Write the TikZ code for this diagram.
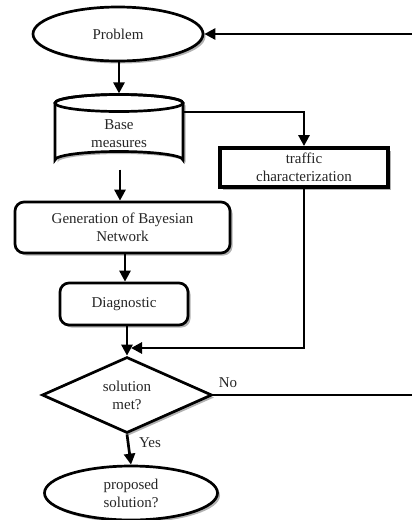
\documentclass[tikz,border=0pt]{standalone}
\usepackage{fontspec}
\setmainfont{Liberation Serif}
\usetikzlibrary{shapes.geometric,arrows.meta,shadows,calc}
\begin{document}
\begin{tikzpicture}[x=1pt,y=-1pt,
  line width=2.7pt,
  arr/.style={-{Triangle[length=11pt,width=11pt]}, line width=2.7pt},
  shad/.style={drop shadow={shadow xshift=2.5pt,shadow yshift=-2.5pt,opacity=0.3,fill=black}},
  txt/.style={font=\fontsize{15}{18}\selectfont, align=center, text=black!85},
  rbox/.style={draw, rounded corners=9pt, fill=white, shad, txt, inner sep=0pt},
  oval/.style={ellipse, draw, fill=white, shad, txt, inner sep=0pt},
  lbl/.style={font=\fontsize{15}{18}\selectfont, text=black!85, inner sep=0pt}
]
\useasboundingbox (0,0) rectangle (412,520);

% Problem
\node[oval, minimum width=170pt, minimum height=54pt] (problem) at (118,34) {Problem};

% Base measures (cylinder)
\fill[black, opacity=0.3] (57.5,105.5) -- (57.5,162.5) arc[start angle=180,end angle=360,x radius=64,y radius=8.5] -- (185.5,105.5) arc[start angle=0,end angle=-180,x radius=64,y radius=8.5] -- cycle;
\filldraw[fill=white] (55,103) -- (55,160) arc[start angle=180,end angle=360,x radius=64,y radius=8.5] -- (183,103) arc[start angle=0,end angle=-180,x radius=64,y radius=8.5] -- cycle;
\draw (119,103) ellipse[x radius=64, y radius=8.5];
\node[txt, minimum width=128pt, minimum height=73.5pt, inner sep=0pt] (base) at (119,131.5) {};
\node[txt] (basetxt) at (119,134) {Base\\measures};

% traffic characterization
\node[draw, fill=white, shad, txt, line width=3.8pt, minimum width=168pt, minimum height=39pt, inner sep=0pt] (traffic) at (304,167.5) {traffic\\characterization};

% Generation
\node[rbox, minimum width=215pt, minimum height=51pt] (gen) at (122.5,227.5) {Generation of Bayesian\\Network};

% Diagnostic
\node[rbox, minimum width=128pt, minimum height=42pt] (diag) at (124,304) {Diagnostic};

% decision
\node[diamond, draw, fill=white, shad, txt, aspect=2.2, inner sep=0pt, minimum width=170pt, minimum height=76pt] (dec) at (127,395) {solution\\met?};

% proposed solution
\node[oval, minimum width=173pt, minimum height=54pt] (prop) at (131,493) {proposed\\solution?};

% coordinates
\coordinate (merge) at (131,348);
\coordinate (re) at (417,395);
\coordinate (rt) at (417,34);
\coordinate (split) at (183,112);

% connectors
\draw[arr] (problem.south -| base.north) -- (base.north);
\draw[arr] (split) -| (traffic.north);
\draw[arr] (base.south -| 120,0) -- (gen.north -| 120,0);
\draw[arr] (gen.south -| 125,0) -- (diag.north -| 125,0);
\draw[arr] (diag.south -| dec.north) -- (dec.north);
\draw[arr] (traffic.south) |- (merge);
\draw[arr] (dec.east) -- (re) -- (rt) -- (problem.east);
\draw[arr] (dec.south) -- (prop.north);

\node[lbl] (no) at (228,383) {No};
\node[lbl] (yes) at (150,443) {Yes};
\end{tikzpicture}
\end{document}
